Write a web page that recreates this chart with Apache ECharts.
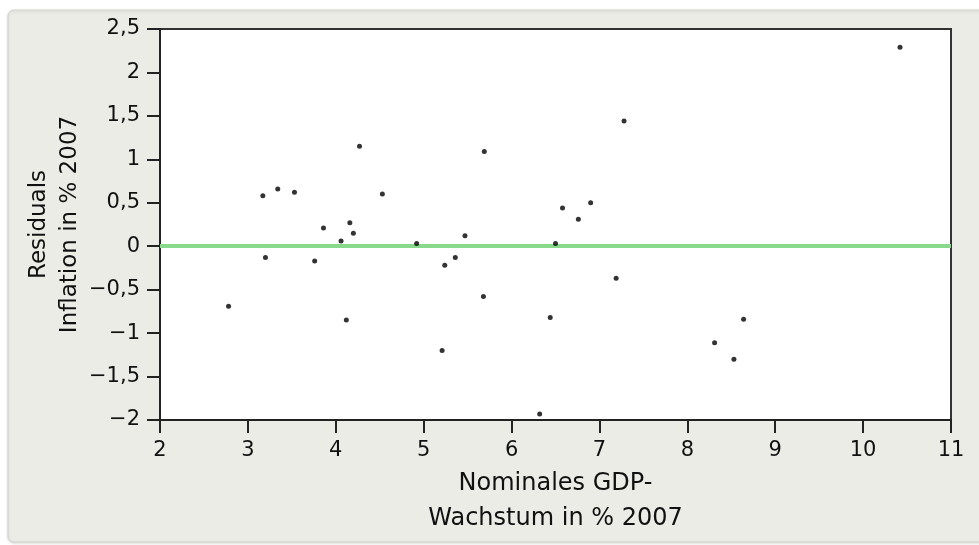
<!DOCTYPE html>
<html lang="de">
<head>
    <meta charset="UTF-8">
    <title>Residuals Inflation</title>
    <style>
        html, body { margin: 0; padding: 0; background: #fff; }
        #main { width: 979px; height: 545px; }
    </style>
    <script src="https://cdn.jsdelivr.net/npm/echarts@6/dist/echarts.min.js"></script>
</head>
<body>
<div id="main"></div>
<script type="text/javascript">
    // Nominales GDP-Wachstum (x) und Residuen der Inflation (y), 2007
    var gdpGrowth = [3.17, 3.34, 3.53, 4.27, 4.53, 3.86, 4.16, 4.20, 4.06, 4.92, 3.20,
                     3.76, 5.24, 2.78, 4.12, 5.21, 5.47, 5.36, 5.68, 6.50, 6.58, 6.76,
                     6.90, 7.19, 6.44, 6.32, 5.69, 7.28, 10.42, 8.64, 8.31, 8.53];
    var residuals = [0.58, 0.66, 0.62, 1.15, 0.60, 0.21, 0.27, 0.15, 0.06, 0.03, -0.13,
                     -0.17, -0.22, -0.69, -0.85, -1.20, 0.12, -0.13, -0.58, 0.03, 0.44, 0.31,
                     0.50, -0.37, -0.82, -1.93, 1.09, 1.44, 2.29, -0.84, -1.11, -1.30];
    var xTicks = [2, 3, 4, 5, 6, 7, 8, 9, 10, 11];
    var yTicks = [-2, -1.5, -1, -0.5, 0, 0.5, 1, 1.5, 2, 2.5];
    var refLine = 0;

    var points = gdpGrowth.map(function (x, i) { return [x, residuals[i]]; });

    function fmt(v) {
        return String(v).replace('.', ',').replace('-', '\u2212');
    }

    var myChart = echarts.init(document.getElementById('main'));
    var option = {
        animation: false,
        backgroundColor: '#fff',
        graphic: [{
            type: 'rect',
            z: -10,
            shape: { x: 8, y: 10, width: 990, height: 532, r: 6 },
            style: {
                fill: '#ececE7', stroke: '#d4d4ce', lineWidth: 1,
                shadowBlur: 3, shadowColor: 'rgba(0,0,0,0.15)', shadowOffsetY: 1
            }
        }],
        grid: {
            left: 160, right: 28, top: 29, bottom: 125,
            show: true, backgroundColor: '#fff',
            borderColor: '#333', borderWidth: 2
        },
        xAxis: {
            type: 'value',
            min: xTicks[0], max: xTicks[xTicks.length - 1], interval: 1,
            splitLine: { show: false },
            axisLine: { onZero: false, lineStyle: { color: '#222', width: 2 } },
            axisTick: { show: true, length: 13, lineStyle: { color: '#222', width: 2 } },
            axisLabel: {
                color: '#111', fontSize: 21, margin: 20,
                fontFamily: 'DejaVu Sans', formatter: fmt
            },
            name: 'Nominales GDP-\nWachstum in % 2007',
            nameLocation: 'middle', nameGap: 46, nameMoveOverlap: false,
            nameTextStyle: {
                color: '#111', fontSize: 24, lineHeight: 35,
                fontFamily: 'DejaVu Sans'
            }
        },
        yAxis: {
            type: 'value',
            min: yTicks[0], max: yTicks[yTicks.length - 1], interval: 0.5,
            splitLine: { show: false },
            axisLine: { onZero: false, lineStyle: { color: '#222', width: 2 } },
            axisTick: { show: true, length: 13, lineStyle: { color: '#222', width: 2 } },
            axisLabel: {
                color: '#111', fontSize: 21, margin: 20,
                fontFamily: 'DejaVu Sans', formatter: fmt
            },
            name: 'Residuals\nInflation in % 2007',
            nameLocation: 'middle', nameGap: 74, nameRotate: 90, nameMoveOverlap: false,
            nameTextStyle: {
                color: '#111', fontSize: 23, lineHeight: 31,
                fontFamily: 'DejaVu Sans'
            }
        },
        series: [{
            type: 'scatter',
            data: points,
            symbol: 'circle',
            symbolSize: 5,
            itemStyle: { color: '#000' },
            z: 5,
            markLine: {
                silent: true,
                symbol: 'none',
                label: { show: false },
                lineStyle: { color: '#88d98b', width: 4, type: 'solid' },
                data: [{ yAxis: refLine }],
                z: 3
            }
        }]
    };
    myChart.setOption(option);
</script>
</body>
</html>
